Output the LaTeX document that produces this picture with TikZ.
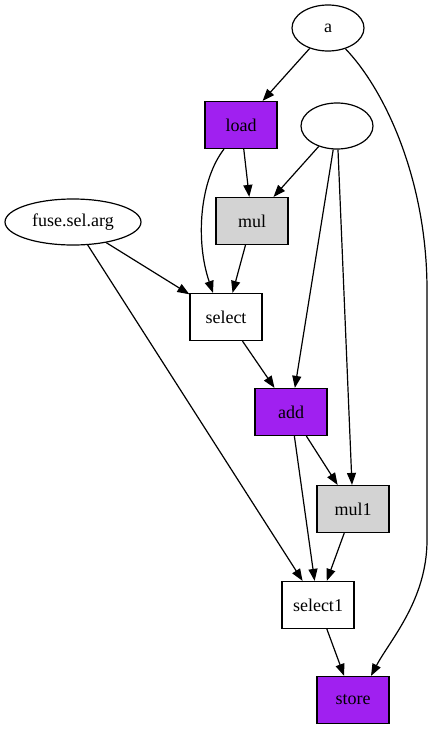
\documentclass[tikz,border=0pt]{standalone}
\usepackage{fontspec}
\setmainfont{Liberation Serif}
\usetikzlibrary{arrows.meta,shapes.geometric}
\definecolor{gvpurple}{HTML}{A020F0}
\definecolor{gvgray}{HTML}{D3D3D3}
\begin{document}
\begin{tikzpicture}[x=1pt,y=-1pt,font=\fontsize{18}{20}\selectfont,
  op/.style={draw,rectangle,line width=1.2pt,minimum width=72pt,minimum height=47pt,inner sep=0pt},
  val/.style={draw,ellipse,line width=1.2pt,minimum width=72pt,minimum height=46pt,inner sep=0pt},
  edge/.style={-{Triangle[length=12pt,width=9pt]},line width=1.2pt}]
  \useasboundingbox (0,0) rectangle (432,731);
  % inputs
  \node[val] (a) at (328,28) {a};
  \node[val] (anon) at (337,126) {};
  \node[val,minimum width=136pt] (fsa) at (73,222) {fuse.sel.arg};
  % operations
  \node[op,fill=gvpurple] (load) at (241,125) {load};
  \node[op,fill=gvgray] (mul) at (252,221) {mul};
  \node[op] (select) at (226,317) {select};
  \node[op,fill=gvpurple] (add) at (291,412) {add};
  \node[op,fill=gvgray] (mul1) at (353,509) {mul1};
  \node[op] (select1) at (318,605) {select1};
  \node[op,fill=gvpurple] (store) at (353,700) {store};
  % edges
  \draw[edge] (a) -- (load);
  \draw[edge] (a.-50) .. controls (385,90) and (427,180) .. (427,290)
    -- (427,540) .. controls (427,600) and (390,640) .. ([xshift=18pt]store.north);
  \draw[edge] (load) -- (mul);
  \draw[edge] ([xshift=-17pt]load.south) .. controls (200,180) and (195,240) .. ([xshift=-13pt]select.north);
  \draw[edge] (anon) -- (mul);
  \draw[edge] (anon) -- (add);
  \draw[edge] (anon) -- (mul1);
  \draw[edge] (fsa) -- (select);
  \draw[edge] (fsa) -- (select1);
  \draw[edge] (mul) -- (select);
  \draw[edge] (select) -- (add);
  \draw[edge] (add) -- (mul1);
  \draw[edge] (add) -- (select1);
  \draw[edge] (mul1) -- (select1);
  \draw[edge] (select1) -- (store);
\end{tikzpicture}
\end{document}
